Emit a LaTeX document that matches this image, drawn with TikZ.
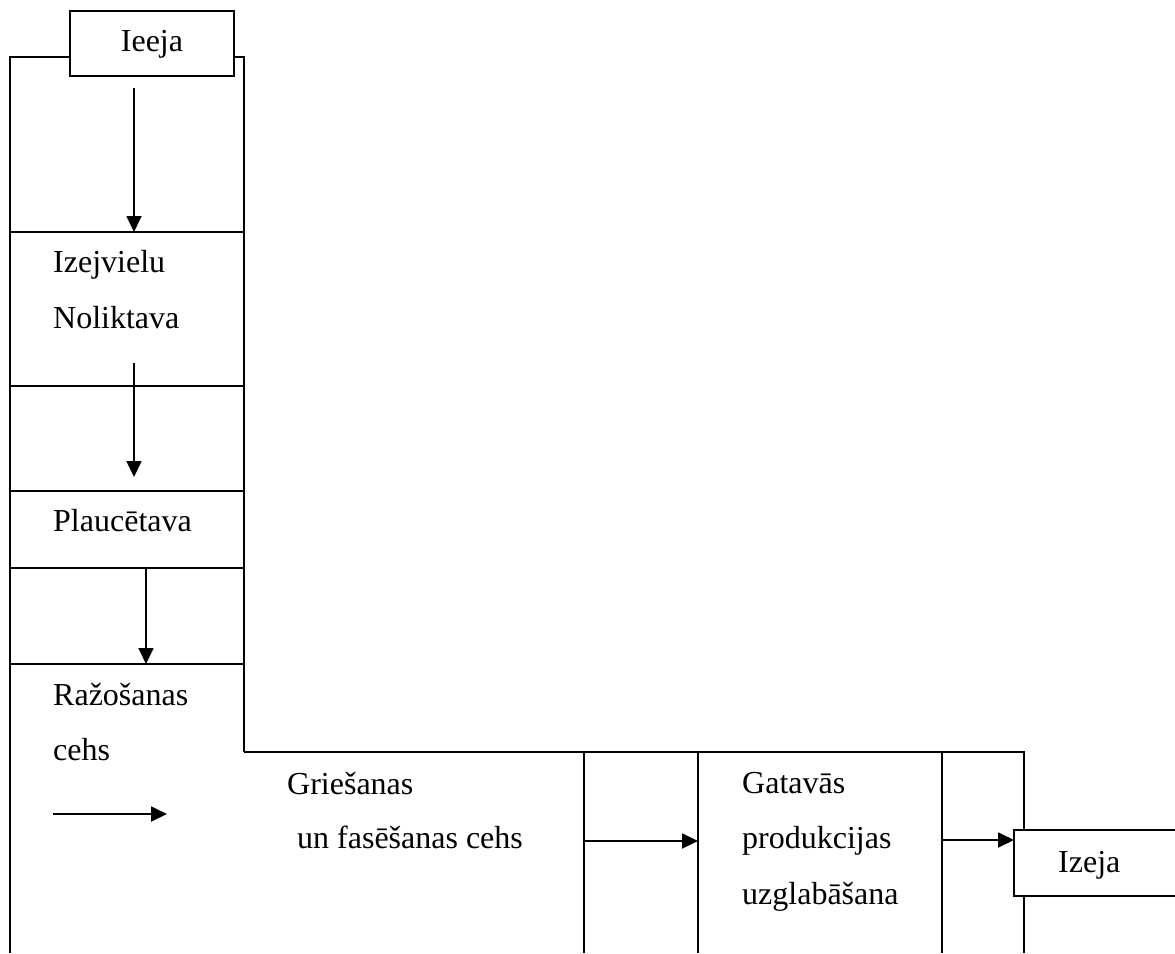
\documentclass[tikz,border=0pt]{standalone}
\usepackage{fontspec}
\setmainfont{Liberation Serif}
\usetikzlibrary{arrows.meta}
\tikzset{
  ln/.style={line width=1.8pt},
  arr/.style={line width=1.8pt,-{Triangle[length=16pt,width=15pt]}},
  lbl/.style={anchor=base west,inner sep=0pt,font=\fontsize{32}{38}\selectfont},
  boxn/.style={draw,line width=1.8pt,fill=white,inner sep=0pt,font=\fontsize{32}{38}\selectfont}
}
\begin{document}
\begin{tikzpicture}[x=1pt,y=-1pt]
\useasboundingbox (0,0) rectangle (1175,953);
% column and floor outline
\draw[ln,line width=2.2pt] (10,953) -- (10,57) -- (244,57) -- (244,752);
\draw[ln] (244,752) -- (1024,752) -- (1024,953);
\foreach \yy in {232,386,491,568,664} \draw[ln] (10,\yy) -- (244,\yy);
\foreach \xx in {584,698,942} \draw[ln] (\xx,752) -- (\xx,953);
% boxes
\node[boxn,minimum width=164pt,minimum height=65pt] (ieeja) at (152,43.5) {};
\node[lbl,anchor=base] (ieejat) at (152,51.5) {Ieeja};
\draw[ln,fill=white] (1177,830) -- (1014,830) -- (1014,896) -- (1177,896);
\coordinate (izejabox) at (1014,863);
\node[lbl] (izeja) at (1058,872) {Izeja};
% labels
\node[lbl] (t1) at (53,272.7) {Izejvielu};
\node[lbl] (t2) at (53,328) {Noliktava};
\node[lbl] (t3) at (53,531.7) {Plaucētava};
\node[lbl] (t4) at (53,705) {Ražošanas};
\node[lbl] (t5) at (53,760) {cehs};
\node[lbl] (t6) at (287,794) {Griešanas};
\node[lbl] (t7) at (297,848) {un fasēšanas cehs};
\node[lbl] (t8) at (742,793) {Gatavās};
\node[lbl] (t9) at (742,848) {produkcijas};
\node[lbl] (t10) at (742,904) {uzglabāšana};
% arrow end points
\coordinate (a1s) at (134,88);  \coordinate (a1e) at (134,232);
\coordinate (a2s) at (134,363); \coordinate (a2e) at (134,477);
\coordinate (a3s) at (146,568); \coordinate (a3e) at (146,664);
\coordinate (a4s) at (53,814);  \coordinate (a4e) at (167,814);
\coordinate (a5s) at (584,841); \coordinate (a5e) at (698,841);
\coordinate (a6s) at (942,840); \coordinate (a6e) at (1014,840);
\draw[arr] (a1s) -- (a1e);
\draw[arr] (a2s) -- (a2e);
\draw[arr] (a3s) -- (a3e);
\draw[arr] (a4s) -- (a4e);
\draw[arr] (a5s) -- (a5e);
\draw[arr] (a6s) -- (a6e);
\end{tikzpicture}
\end{document}
